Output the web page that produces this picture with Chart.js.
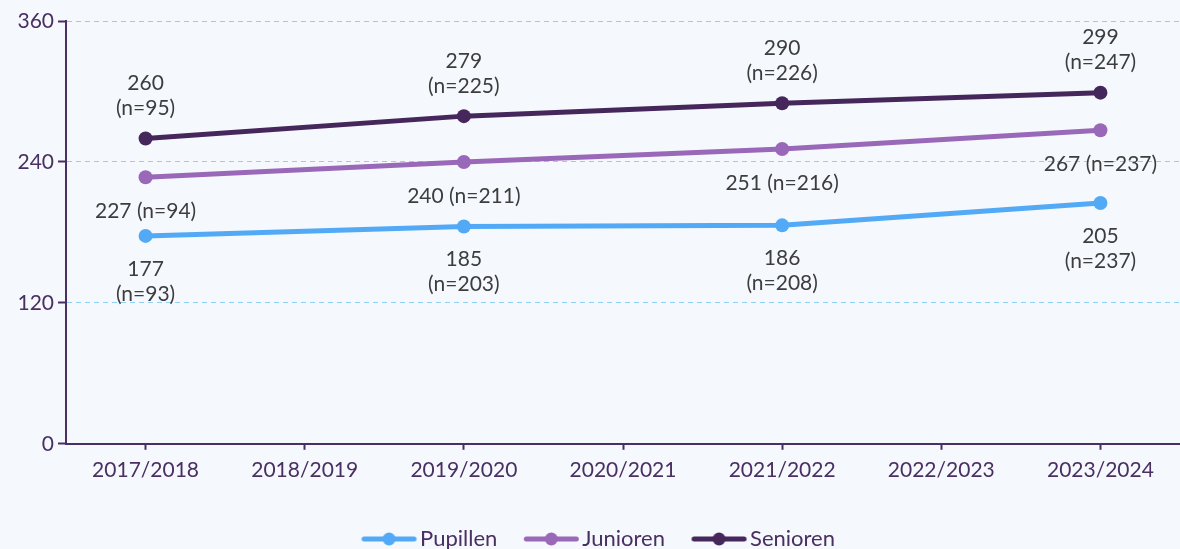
<!DOCTYPE html>
<html>
<head>
<meta charset="utf-8">
<script src="https://cdn.jsdelivr.net/npm/chart.js@4"></script>
<style>
html, body { margin: 0; padding: 0; background: #f5f8fd; overflow: hidden; }
#wrap { width: 1180px; height: 560px; }
</style>
</head>
<body>
<div id="wrap"><canvas id="lijnChart" width="1180" height="560"></canvas></div>
<script>
// --- Data ---
const seizoenen = ['2017/2018', '2018/2019', '2019/2020', '2020/2021', '2021/2022', '2022/2023', '2023/2024'];
const pupillen = [177, null, 185, null, 186, null, 205];
const pupillenN = [93, null, 203, null, 208, null, 237];
const junioren = [227, null, 240, null, 251, null, 267];
const juniorenN = [94, null, 211, null, 216, null, 237];
const senioren = [260, null, 279, null, 290, null, 299];
const seniorenN = [95, null, 225, null, 226, null, 247];
const yMin = 0, yMax = 360, yStap = 120;

const paars = '#4a2f62';
const kleuren = ['#52aaf7', '#9a68b8', '#45275b'];
const tekstMaat = 21;

// --- Legenda-icoon: lijntje met bolletje ---
function legendaIcoon(kleur) {
    const c = document.createElement('canvas');
    c.width = 81; c.height = 16;
    const g = c.getContext('2d');
    g.strokeStyle = kleur;
    g.lineWidth = 5;
    g.lineCap = 'round';
    g.beginPath(); g.moveTo(27.5, 8); g.lineTo(77.5, 8); g.stroke();
    g.fillStyle = kleur;
    g.beginPath(); g.arc(52.5, 8, 6.5, 0, Math.PI * 2); g.fill();
    return c;
}
const iconen = kleuren.map(legendaIcoon);

// --- Labels bij de punten ---
const puntLabels = {
    id: 'puntLabels',
    afterDatasetsDraw(chart) {
        const ctx = chart.ctx;
        ctx.save();
        ctx.font = tekstMaat + 'px Lato';
        ctx.fillStyle = '#3d3d3d';
        ctx.textAlign = 'center';
        ctx.textBaseline = 'middle';
        chart.data.datasets.forEach((ds, i) => {
            const meta = chart.getDatasetMeta(i);
            meta.data.forEach((pt, j) => {
                const v = ds.data[j];
                if (v === null || v === undefined) return;
                const n = '(n=' + ds.aantallen[j] + ')';
                if (ds.labelStijl === 'boven') {
                    ctx.fillText(String(v), pt.x, pt.y - 55);
                    ctx.fillText(n, pt.x, pt.y - 30);
                } else if (ds.labelStijl === 'onder') {
                    ctx.fillText(String(v), pt.x, pt.y + 33);
                    ctx.fillText(n, pt.x, pt.y + 58);
                } else {
                    ctx.fillText(v + ' ' + n, pt.x, pt.y + 34);
                }
            });
        });
        ctx.restore();
    }
};

function lijn(label, data, aantallen, kleur, stijl) {
    return {
        label: label,
        data: data,
        aantallen: aantallen,
        labelStijl: stijl,
        borderColor: kleur,
        backgroundColor: kleur,
        borderWidth: 5,
        pointRadius: 7,
        pointBorderWidth: 0,
        pointHoverRadius: 7,
        tension: 0,
        spanGaps: true
    };
}

Chart.defaults.font.family = 'Lato';
Chart.defaults.font.size = tekstMaat;

new Chart(document.getElementById('lijnChart'), {
    type: 'line',
    data: {
        labels: seizoenen,
        datasets: [
            lijn('Pupillen', pupillen, pupillenN, kleuren[0], 'onder'),
            lijn('Junioren', junioren, juniorenN, kleuren[1], 'enkel'),
            lijn('Senioren', senioren, seniorenN, kleuren[2], 'boven')
        ]
    },
    plugins: [puntLabels],
    options: {
        responsive: false,
        animation: false,
        devicePixelRatio: 1,
        layout: { autoPadding: false, padding: { top: 21, left: 0, right: 0, bottom: 0 } },
        plugins: {
            tooltip: { enabled: false },
            legend: {
                position: 'bottom',
                labels: {
                    usePointStyle: true,
                    pointStyleWidth: 64,
                    padding: 10,
                    color: paars,
                    font: { size: 22 },
                    generateLabels(chart) {
                        const items = Chart.defaults.plugins.legend.labels.generateLabels(chart);
                        items.forEach((it, i) => { it.pointStyle = iconen[i]; });
                        return items;
                    }
                }
            }
        },
        scales: {
            x: {
                offset: true,
                grid: { drawOnChartArea: false, drawTicks: true, tickLength: 6, tickColor: paars, tickWidth: 2 },
                border: { color: paars, width: 2 },
                ticks: { color: paars, padding: 8, font: { size: tekstMaat } },
                afterFit(scale) { scale.height += 27; }
            },
            y: {
                min: yMin,
                max: yMax,
                grid: { color: '#8fd0f7', lineWidth: 1, tickLength: 8, tickColor: paars, tickWidth: 2 },
                border: { color: paars, width: 2, dash: [5, 4] },
                ticks: { stepSize: yStap, color: paars, padding: 4, font: { size: tekstMaat } },
                afterFit(scale) { scale.width = 66; }
            }
        }
    }
});
</script>
</body>
</html>
